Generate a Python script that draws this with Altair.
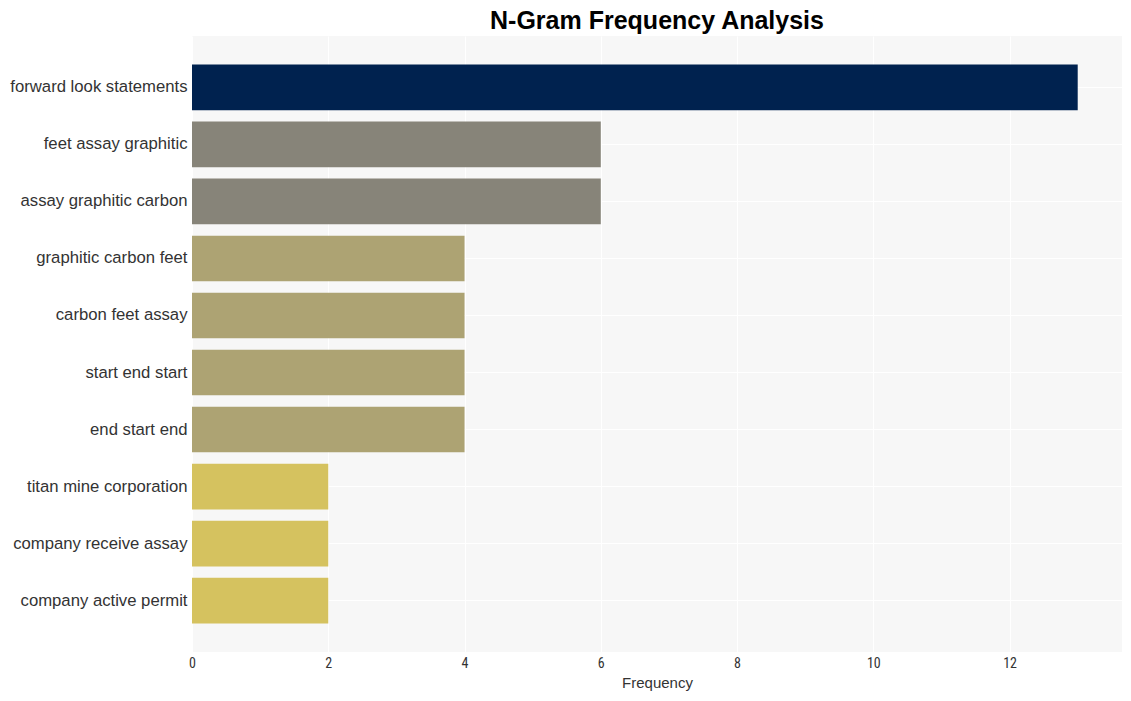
import altair as alt
import pandas as pd

ngrams = [
    "forward look statements",
    "feet assay graphitic",
    "assay graphitic carbon",
    "graphitic carbon feet",
    "carbon feet assay",
    "start end start",
    "end start end",
    "titan mine corporation",
    "company receive assay",
    "company active permit",
]
freqs = [13, 6, 6, 4, 4, 4, 4, 2, 2, 2]

color_domain = [13, 6, 4, 2]
color_range = ["#00224f", "#878479", "#ada373", "#d5c25f"]

df = pd.DataFrame({"ngram": ngrams, "Frequency": freqs})

chart = (
    alt.Chart(df)
    .mark_bar()
    .encode(
        x=alt.X(
            "Frequency:Q",
            scale=alt.Scale(domain=[0, 13.65], nice=False, zero=True),
            axis=alt.Axis(
                values=[0, 2, 4, 6, 8, 10, 12],
                ticks=False,
                domain=False,
                grid=True,
                gridColor="white",
                gridWidth=1,
                labelFontSize=14,
                labelFlush=False,
                labelColor="#333333",
                labelFont="Roboto Condensed, DejaVu Sans Condensed, Roboto, sans-serif",
                labelPadding=4,
                title="Frequency",
                titleFontSize=15,
                titleFontWeight="normal",
                titleColor="#333333",
                titlePadding=5,
                titleFont="Liberation Sans",
            ),
        ),
        y=alt.Y(
            "ngram:N",
            sort=ngrams,
            scale=alt.Scale(paddingInner=0.2, paddingOuter=0.5),
            axis=alt.Axis(
                title=None,
                ticks=False,
                domain=False,
                grid=True,
                gridColor="white",
                gridWidth=1,
                bandPosition=0.5,
                labelFontSize=16.7,
                labelColor="#333333",
                labelFont="Liberation Sans",
                labelPadding=5,
                labelLimit=300,
            ),
        ),
        color=alt.Color(
            "Frequency:O",
            scale=alt.Scale(domain=color_domain, range=color_range),
            legend=None,
        ),
    )
    .properties(
        width=930,
        height=616,
        title=alt.TitleParams(
            "N-Gram Frequency Analysis",
            fontSize=25,
            fontWeight="bold",
            font="Liberation Sans",
            color="black",
            anchor="middle",
            frame="group",
            offset=2,
        ),
        autosize=alt.AutoSizeParams(type="none"),
        padding={"left": 184, "top": 28, "right": 0, "bottom": 50},
    )
    .configure_view(fill="#f7f7f7", stroke=None)
)

chart.save("out.html", embed_options={"renderer": "svg", "actions": False})
